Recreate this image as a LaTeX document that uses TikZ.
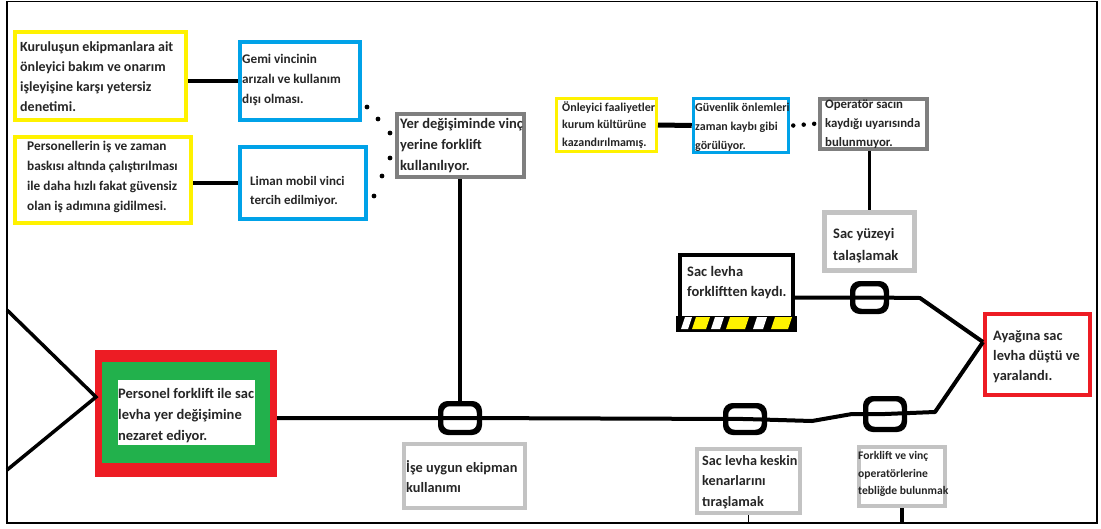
\documentclass[tikz,border=0pt]{standalone}
\usepackage{fontspec}
\setmainfont{Carlito}
\definecolor{pyel}{HTML}{FFF200}
\definecolor{pblue}{HTML}{00A2E8}
\definecolor{pred}{HTML}{ED1C24}
\definecolor{pgreen}{HTML}{22B14C}
\definecolor{pgray}{HTML}{7F7F7F}
\definecolor{plgray}{HTML}{C3C3C3}
\newcommand\fz[2]{\fontsize{#1}{#2}\selectfont}
\tikzset{
  bx/.style={draw=#1, rectangle, inner sep=0, fill=white},
  txt/.style={inner sep=0, align=left, anchor=west, text=black!85},
  conn/.style={line width=4, line join=round},
  capsule/.style={draw, line width=3.5, rounded corners=8, inner sep=0},
}
\begin{document}
\begin{tikzpicture}[x=1pt,y=-1pt]
\useasboundingbox (0,0) rectangle (1101,528);
\fill[white] (0,0) rectangle (1101,528);
% frame
\draw[line width=1.5] (7,1.5) rectangle (1097,523);
\coordinate (f1) at (7,310);
\coordinate (f2) at (7,470);
\coordinate (tri) at (96,397);
\coordinate (apex) at (983,342);

% capsules (positions)
\node[capsule, minimum width=37, minimum height=27] (capA) at (460,418) {};
\node[capsule, minimum width=37, minimum height=25] (capB) at (745,419) {};
\node[capsule, minimum width=37, minimum height=29] (capC) at (885,414) {};
\node[capsule, minimum width=32, minimum height=26] (capD) at (869.5,297.5) {};

% boxes
\node[bx=pyel, line width=4.5, minimum width=171, minimum height=88] (b1) at (100.5,76) {};
\node[bx=pyel, line width=4.5, minimum width=176, minimum height=86] (b2) at (103,180) {};
\node[bx=pblue, line width=4.5, minimum width=120, minimum height=78] (b3) at (300,81) {};
\node[bx=pblue, line width=4.5, minimum width=126, minimum height=72] (b4) at (303,183) {};
\node[bx=pgray, line width=4, minimum width=127, minimum height=63] (b5) at (460.5,145.5) {};
\node[bx=pyel, line width=3, minimum width=100, minimum height=53] (b6) at (606.5,125) {};
\node[bx=pblue, line width=3.5, minimum width=95, minimum height=54] (b7) at (741,125.5) {};
\node[bx=pgray, line width=4, minimum width=107, minimum height=50] (b8) at (873,123.5) {};
\node[bx=plgray, line width=5, minimum width=90, minimum height=58] (b9) at (869.5,241.5) {};
\node[bx=black, line width=4, minimum width=113, minimum height=73] (b10) at (736.5,291.5) {};
\node[bx=pred, line width=4, minimum width=105, minimum height=81] (b11) at (1037.5,354.5) {};
\node[fill=pred, inner sep=0, minimum width=182, minimum height=127] (mainred) at (186,413.5) {};
\node[fill=pgreen, inner sep=0, minimum width=168, minimum height=101] (maingreen) at (186,412.5) {};
\node[fill=white, inner sep=0, minimum width=137, minimum height=65] (mainwhite) at (186.5,412.5) {};
\node[bx=plgray, line width=4.5, minimum width=121, minimum height=64] (b13) at (464.5,476) {};
\node[bx=plgray, line width=4.5, minimum width=103, minimum height=64] (b14) at (748.5,481) {};
\node[bx=plgray, line width=4, minimum width=86, minimum height=59] (b15) at (902,476.5) {};

% connectors
\draw[conn] (b1.east |- b3.west) -- (b3.west);
\draw[conn] (b2.east |- b4.west) -- (b4.west);
\draw[line width=5] (b6.east) -- (b7.west);
\draw[line width=4.5, line cap=round, dash pattern=on 0pt off 10.5pt] ([xshift=3pt]b7.east) -- (b8.west);
\foreach \p in {(367,107),(378,119),(390,133),(390,158),(382,176),(374,196)}
  \fill \p circle (2.4);
\draw[line width=3.5] (b5.south -| capA.north) -- (capA.north);
\draw[line width=3.5] (b8.south -| b9.north) -- (b9.north);
\draw[line width=3.5] (f1) -- (tri) -- (f2);
\draw[conn] (mainred.east |- capA.center) -- (capA.center) -- (capB.center) -- (812,421) -- (852,414) -- (capC.center) -- (935,412) -- (apex);
\draw[conn] (b10.east |- capD.center) -- (capD.center) -- (920,298) -- (apex);
\draw[line width=1.5] (b14.south) -- (b14.south |- 0,523);
\draw[line width=3.5] (b15.south) -- (b15.south |- 0,523);

% capsules redrawn on top
\foreach \c in {capA,capB,capC,capD}
  \draw[line width=3.5, rounded corners=8] (\c.south west) rectangle (\c.north east);

% hazard stripe
\fill[black] ([xshift=-2pt,yshift=-2pt]b10.south west) rectangle ([xshift=2pt,yshift=14pt]b10.south east);
\foreach \a/\b/\hc in {681/688/white, 692/706/pyel, 711/720/white, 726/745/pyel, 753/763/white, 771/788/pyel}
  \fill[\hc] (\a,329) -- (\b,329) -- (\b+4,317) -- (\a+4,317) -- cycle;

% texts
\node[txt, font=\bfseries\fz{14}{20}] (t1) at (20,77) {Kuruluşun ekipmanlara ait\\önleyici bakım ve onarım\\işleyişine karşı yetersiz\\denetimi.};
\node[txt, font=\bfseries\fz{13.3}{20}] (t2) at (27,177) {Personellerin iş ve zaman\\baskısı altında çalıştırılması\\ile daha hızlı fakat güvensiz\\olan iş adımına gidilmesi.};
\node[txt, font=\bfseries\fz{13.2}{20}] (t3) at (242,80) {Gemi vincinin\\arızalı ve kullanım\\dışı olması.};
\node[txt, font=\bfseries\fz{13}{19}] (t4) at (250,191) {Liman mobil vinci\\tercih edilmiyor.};
\node[txt, font=\bfseries\fz{14.5}{21}] (t5) at (400,146) {Yer değişiminde vinç\\yerine forklift\\kullanılıyor.};
\node[txt, font=\bfseries\fz{12}{17.5}] (t6) at (562,125) {Önleyici faaliyetler\\kurum kültürüne\\kazandırılmamış.};
\node[txt, font=\bfseries\fz{12}{19}] (t7) at (695,127) {Güvenlik önlemleri\\zaman kaybı gibi\\görülüyor.};
\node[txt, font=\bfseries\fz{12.8}{19}] (t8) at (825,124) {Operatör sacın\\kaydığı uyarısında\\bulunmuyor.};
\node[txt, font=\bfseries\fz{14.5}{22}] (t9) at (833,246) {Sac yüzeyi\\talaşlamak};
\node[txt, font=\bfseries\fz{14.5}{20}] (t10) at (687,283) {Sac levha\\forkliftten kaydı.};
\node[txt, font=\bfseries\fz{14.4}{20}] (t11) at (993,357) {Ayağına sac\\levha düştü ve\\yaralandı.};
\node[txt, font=\bfseries\fz{14.5}{21}] (tm) at (118,416) {Personel forklift ile sac\\levha yer değişimine\\nezaret ediyor.};
\node[txt, font=\bfseries\fz{14.3}{20}] (t13) at (406,477) {İşe uygun ekipman\\kullanımı};
\node[txt, font=\bfseries\fz{14.2}{20.5}] (t14) at (702,482) {Sac levha keskin\\kenarlarını\\tıraşlamak};
\node[txt, font=\bfseries\fz{11.6}{17.5}] (t15) at (858,474) {Forklift ve vinç\\operatörlerine\\tebliğde bulunmak};
\end{tikzpicture}
\end{document}
